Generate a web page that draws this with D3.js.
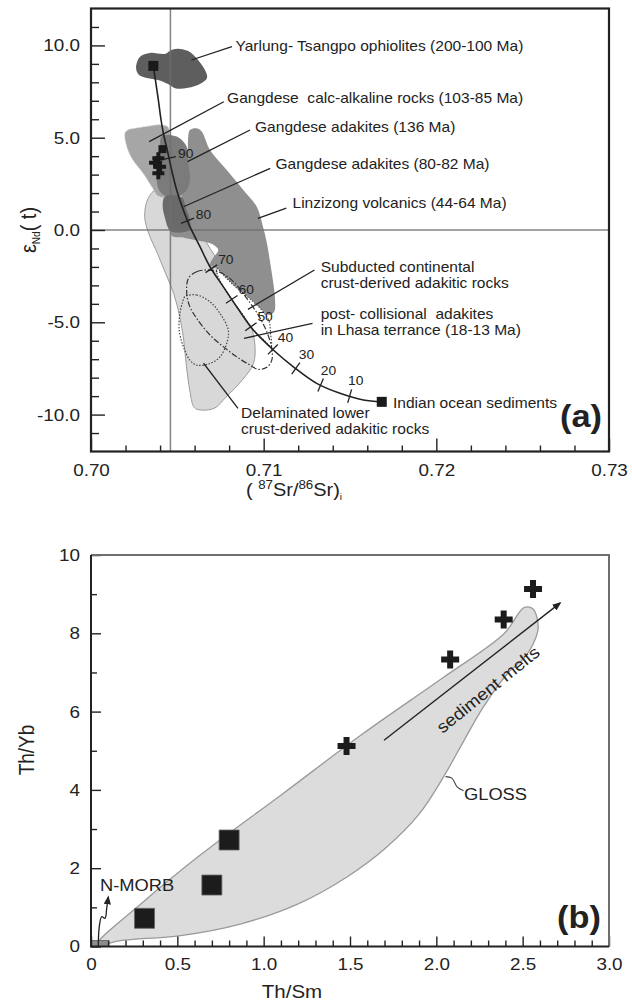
<!DOCTYPE html>
<html>
<head>
<meta charset="utf-8">
<script src="https://cdn.jsdelivr.net/npm/d3@7"></script>
<style>
  body { margin: 0; background: #fff; }
  svg text { font-family: "Liberation Sans", Arial, sans-serif; fill: #222; }
</style>
</head>
<body>
<div id="chart"></div>
<script>
// ---------- panel (a) data : eNd(t) vs (87Sr/86Sr)i ----------
var srTicks = [0.70, 0.71, 0.72, 0.73];
var ndTicks = [-10, -5, 0, 5, 10];
var refSr = 0.7046, refNd = 0;

// mixing curve between the ophiolite end member and Indian ocean sediments
var curveX = [0.70361, 0.70372, 0.70390, 0.70405, 0.70420, 0.70440, 0.70467, 0.70496, 0.70535, 0.70573, 0.70631,
              0.70689, 0.70766, 0.70844, 0.70940, 0.71056, 0.71172, 0.71307, 0.71442, 0.71577, 0.71684];
var curveY = [8.89, 8.2, 7.05, 6.0, 5.2, 4.4, 3.25, 2.17, 1.08, 0.18, -0.90,
              -1.99, -3.07, -4.16, -5.42, -6.50, -7.41, -8.31, -8.85, -9.21, -9.31];
var mixPct = [90, 80, 70, 60, 50, 40, 30, 20, 10];
var mixX = [0.70452, 0.70559, 0.70697, 0.70815, 0.70926, 0.71053, 0.71186, 0.71330, 0.71498];
var mixY = [3.9, 0.5, -2.1, -3.76, -5.24, -6.47, -7.5, -8.4, -9.0];

var endX = [0.70361, 0.71684], endY = [8.89, -9.31];
var gdSqX = [0.70414], gdSqY = [4.38];
var gdCrX = [0.70390, 0.70371, 0.70400, 0.70390], gdCrY = [3.89, 3.65, 3.43, 3.07];

var ophiolite = [[0.70261,8.78],[0.70284,9.38],[0.70342,9.59],[0.70429,9.54],[0.70469,9.76],[0.70515,9.81],
  [0.70573,9.65],[0.70620,9.21],[0.70660,8.67],[0.70672,8.24],[0.70631,7.91],[0.70562,7.70],[0.70492,7.67],
  [0.70446,7.91],[0.70388,8.13],[0.70324,8.24],[0.70278,8.40]];
var calcAlk = [[0.70197,5.26],[0.70214,5.42],[0.70266,5.53],[0.70342,5.64],[0.70411,5.69],[0.70446,5.58],
  [0.70458,5.15],[0.70486,4.34],[0.70504,3.25],[0.70486,2.17],[0.70429,1.79],[0.70388,1.84],[0.70353,2.33],
  [0.70301,3.09],[0.70243,3.79],[0.70208,4.50]];
var adak136 = [[0.70409,5.06],[0.70496,5.06],[0.70554,4.51],[0.70564,3.62],[0.70573,2.71],[0.70554,2.17],
  [0.70506,1.80],[0.70438,1.80],[0.70400,2.08],[0.70381,2.62],[0.70390,3.79],[0.70400,4.51]];
var adak80 = [[0.70429,1.81],[0.70525,1.77],[0.70550,1.17],[0.70573,0.54],[0.70569,0.0],[0.70506,-0.14],
  [0.70458,-0.04],[0.70429,0.63],[0.70415,1.35]];
var linzizong = [[0.70573,5.42],[0.70612,5.51],[0.70641,5.33],[0.70689,4.34],[0.70786,3.25],[0.70882,2.17],
  [0.70960,1.26],[0.70996,0.18],[0.71019,-0.72],[0.71038,-1.80],[0.71056,-2.89],[0.71066,-3.79],[0.71061,-4.43],
  [0.71033,-4.61],[0.70989,-4.34],[0.70940,-3.89],[0.70882,-3.43],[0.70824,-2.98],[0.70776,-2.53],[0.70728,-2.08],
  [0.70689,-1.90],[0.70707,-1.52],[0.70737,-1.08],[0.70701,-0.76],[0.70631,-0.60],[0.70544,-0.43],[0.70469,-0.33],
  [0.70463,0.0],[0.70469,0.81],[0.70515,1.63],[0.70550,2.44],[0.70562,3.79],[0.70562,4.88]];
var lightField = [[0.70374,2.17],[0.70460,2.0],[0.70549,1.81],[0.70595,0.90],[0.70642,-0.18],[0.70689,-0.99],
  [0.70735,-1.63],[0.70794,-2.35],[0.70852,-3.25],[0.70899,-4.34],[0.70934,-5.42],[0.70950,-6.33],[0.70941,-7.23],
  [0.70875,-8.14],[0.70782,-9.05],[0.70712,-9.67],[0.70619,-9.73],[0.70595,-9.58],[0.70572,-8.68],[0.70553,-7.41],
  [0.70537,-5.97],[0.70514,-4.70],[0.70479,-3.44],[0.70432,-2.35],[0.70385,-1.27],[0.70334,-0.18],[0.70311,0.72],
  [0.70327,1.63]];
var subducted = [[0.70728,-2.08],[0.70776,-2.53],[0.70824,-2.98],[0.70882,-3.43],[0.70940,-3.89],[0.70989,-4.34],
  [0.71030,-4.9],[0.71040,-5.6],[0.71043,-6.32],[0.71000,-5.95],[0.70940,-5.42],[0.70880,-4.6],[0.70820,-3.85],
  [0.70766,-3.07],[0.70735,-2.5]];
var postColl = [[0.70564,-2.62],[0.70612,-2.26],[0.70689,-2.17],[0.70766,-2.38],[0.70834,-2.89],[0.70902,-3.70],
  [0.70969,-4.61],[0.71018,-5.51],[0.71047,-6.41],[0.71047,-7.05],[0.71018,-7.44],[0.70969,-7.55],[0.70921,-7.32],
  [0.70844,-6.87],[0.70766,-6.32],[0.70689,-5.69],[0.70612,-4.79],[0.70569,-4.07],[0.70554,-3.34]];
var delam = [[0.70544,-3.61],[0.70612,-3.52],[0.70689,-3.89],[0.70747,-4.52],[0.70795,-5.42],[0.70786,-6.14],
  [0.70747,-6.87],[0.70689,-7.23],[0.70612,-7.32],[0.70573,-7.05],[0.70535,-6.32],[0.70511,-5.42],[0.70515,-4.52],
  [0.70531,-3.89]];

var fieldLabels = [
  {lines: ["Yarlung- Tsangpo ophiolites (200-100 Ma)"], x: 0.70837, y: 9.72, lead: [0.70582, 9.21, 0.70816, 9.93]},
  {lines: ["Gangdese  calc-alkaline rocks (103-85 Ma)"], x: 0.70788, y: 6.87, lead: [0.70337, 4.79, 0.70769, 6.95]},
  {lines: ["Gangdese adakites (136 Ma)"], x: 0.70950, y: 5.31, lead: [0.70559, 3.70, 0.70921, 5.42]},
  {lines: ["Gangdese adakites (80-82 Ma)"], x: 0.71068, y: 3.29, lead: [0.70536, 1.26, 0.71038, 3.34]},
  {lines: ["Linzizong volcanics (44-64 Ma)"], x: 0.71167, y: 1.18, lead: [0.70967, 0.63, 0.71131, 1.18]},
  {lines: ["Subducted continental", "crust-derived adakitic rocks"], x: 0.71330, y: -2.26, lead: [0.70909, -4.30, 0.71294, -2.17]},
  {lines: ["post- collisional  adakites", "in Lhasa terrance (18-13 Ma)"], x: 0.71330, y: -4.82, lead: [0.70886, -5.87, 0.71283, -5.06]},
  {lines: ["Indian ocean sediments"], x: 0.71749, y: -9.63, lead: null},
  {lines: ["Delaminated lower", "crust-derived adakitic rocks"], x: 0.70869, y: -10.21, lead: [0.70652, -7.22, 0.70851, -9.66]}
];

// ---------- panel (b) data : Th/Yb vs Th/Sm ----------
var thsmTicks = [0, 0.5, 1.0, 1.5, 2.0, 2.5, 3.0];
var thybTicks = [0, 2, 4, 6, 8, 10];
var sqThSm = [0.31, 0.70, 0.80], sqThYb = [0.72, 1.57, 2.72];
var crThSm = [1.48, 2.08, 2.39, 2.56], crThYb = [5.12, 7.33, 8.35, 9.13];
var gloss = [[0.03,0.03],[0.29,1.09],[0.64,2.36],[1.107,3.89],[1.57,5.42],[2.04,6.87],[2.39,7.98],[2.51,8.66],
  [2.56,8.62],[2.59,8.15],[2.56,7.72],[2.51,7.38],[2.41,6.96],[2.27,6.10],[2.16,5.26],[2.04,4.32],[1.90,3.38],
  [1.71,2.53],[1.48,1.77],[1.20,1.09],[0.87,0.58],[0.52,0.28],[0.17,0.15]];
var nmorbBox = [0, 0, 0.1, 0.15];
var nmorbX = [0.042, 0.048, 0.062, 0.081, 0.091, 0.100], nmorbY = [0.0, 0.51, 0.76, 0.72, 0.98, 1.26];
var meltX = [1.697, 2.716], meltY = [5.27, 8.77];

var width = 632, height = 1004,
    SX = 1.11;   // the source figure is a little wider than tall, so the lettering is stretched

var svg = d3.select("#chart").append("svg")
    .attr("width", width)
    .attr("height", height);

svg.append("defs").append("marker")
    .attr("id", "arrow")
    .attr("viewBox", "0 -5 10 10")
    .attr("refX", 8).attr("refY", 0)
    .attr("markerUnits", "userSpaceOnUse")
    .attr("markerWidth", 9).attr("markerHeight", 9)
    .attr("orient", "auto")
  .append("path")
    .attr("d", "M0,-4L10,0L0,4Z")
    .attr("fill", "#222");

var xA = d3.scaleLinear().domain([0.70, 0.73]).range([91, 609]);
var yA = d3.scaleLinear().domain([-12, 12]).range([451.5, 8.5]);
var xB = d3.scaleLinear().domain([0, 3]).range([91, 609]);
var yB = d3.scaleLinear().domain([0, 10]).range([946.5, 555]);

function field(x, y) {
  return d3.line().x(function(d) { return x(d[0]); }).y(function(d) { return y(d[1]); })
    .curve(d3.curveCatmullRomClosed.alpha(0.5));
}

// text placed with a horizontal stretch
function stext(g, x, y, size, extra) {
  return g.append("text")
    .attr("transform", "translate(" + x + "," + y + ")" + (extra || "") + " scale(" + SX + ",1)")
    .style("font-size", size + "px");
}

// ================= panel (a) =================
var gA = svg.append("g");
var fA = field(xA, yA);

gA.append("path").attr("d", fA(lightField)).attr("fill", "#d8d8d8").attr("stroke", "#9c9c9c").attr("stroke-width", 1);
gA.append("path").attr("d", fA(linzizong)).attr("fill", "#8f8f8f");
gA.append("path").attr("d", fA(subducted)).attr("fill", "#fff")
    .attr("stroke", "#444").attr("stroke-width", 1.1).attr("stroke-dasharray", "1.5,1.5");
gA.append("path").attr("d", fA(calcAlk)).attr("fill", "#a6a6a6")
    .attr("stroke", "#d2d2d2").attr("stroke-width", 1).attr("stroke-dasharray", "1.5,1.5");
gA.append("path").attr("d", fA(adak136)).attr("fill", "#7b7b7b");
gA.append("path").attr("d", fA(adak80)).attr("fill", "#6a6a6a");
gA.append("path").attr("d", fA(ophiolite)).attr("fill", "#5e5e5e");
gA.append("path").attr("d", fA(delam)).attr("fill", "none")
    .attr("stroke", "#444").attr("stroke-width", 1.2).attr("stroke-dasharray", "1.5,1.6");
gA.append("path").attr("d", fA(postColl)).attr("fill", "none")
    .attr("stroke", "#333").attr("stroke-width", 1.2).attr("stroke-dasharray", "6,2,1.5,2");

// reference lines
gA.append("line").attr("x1", xA(refSr)).attr("x2", xA(refSr)).attr("y1", yA(-12)).attr("y2", yA(12))
    .attr("stroke", "#6f6f6f").attr("stroke-width", 1.5).attr("stroke-opacity", 0.85);
gA.append("line").attr("x1", xA(0.70)).attr("x2", xA(0.73)).attr("y1", yA(refNd)).attr("y2", yA(refNd))
    .attr("stroke", "#6f6f6f").attr("stroke-width", 1.5).attr("stroke-opacity", 0.85);

// mixing curve
var curvePts = curveX.map(function(d, i) { return [d, curveY[i]]; });
gA.append("path")
    .attr("d", d3.line().x(function(d) { return xA(d[0]); }).y(function(d) { return yA(d[1]); })
      .curve(d3.curveCatmullRom.alpha(0.5))(curvePts))
    .attr("fill", "none").attr("stroke", "#222").attr("stroke-width", 1.6);

// tick marks on the curve
function curveNormal(yv) {
  var i = 0;
  while (i < curveY.length - 2 && curveY[i + 1] > yv) i++;
  var dx = xA(curveX[i + 1]) - xA(curveX[i]), dy = yA(curveY[i + 1]) - yA(curveY[i]);
  var len = Math.sqrt(dx * dx + dy * dy);
  return [dy / len, -dx / len];
}
mixPct.forEach(function(p, i) {
  var cx = xA(mixX[i]), cy = yA(mixY[i]), n = curveNormal(mixY[i]);
  gA.append("line")
      .attr("x1", cx - n[0] * 7).attr("y1", cy - n[1] * 7)
      .attr("x2", cx + n[0] * 7).attr("y2", cy + n[1] * 7)
      .attr("stroke", "#222").attr("stroke-width", 1.3);
  stext(gA, cx + n[0] * 15 + 2, cy + n[1] * 15 - 1, 12.5)
      .attr("text-anchor", "middle").attr("dominant-baseline", "central")
      .text(p);
});

// symbols
gA.selectAll(".endsq").data(endX).enter().append("path")
    .attr("transform", function(d, i) { return "translate(" + xA(d) + "," + yA(endY[i]) + ")"; })
    .attr("d", d3.symbol().type(d3.symbolSquare).size(100))
    .attr("fill", "#1a1a1a");
gA.selectAll(".gdsq").data(gdSqX).enter().append("path")
    .attr("transform", function(d, i) { return "translate(" + xA(d) + "," + yA(gdSqY[i]) + ")"; })
    .attr("d", d3.symbol().type(d3.symbolSquare).size(64))
    .attr("fill", "#1a1a1a");
gA.selectAll(".gdcr").data(gdCrX).enter().append("path")
    .attr("transform", function(d, i) { return "translate(" + xA(d) + "," + yA(gdCrY[i]) + ")"; })
    .attr("d", d3.symbol().type(d3.symbolCross).size(80))
    .attr("fill", "#1a1a1a");

// field labels with leaders
fieldLabels.forEach(function(f) {
  if (f.lead) {
    gA.append("line")
        .attr("x1", xA(f.lead[0])).attr("y1", yA(f.lead[1]))
        .attr("x2", xA(f.lead[2])).attr("y2", yA(f.lead[3]))
        .attr("stroke", "#222").attr("stroke-width", 1.3);
  }
  var t = stext(gA, xA(f.x), yA(f.y), 14).attr("xml:space", "preserve");
  f.lines.forEach(function(l, j) {
    t.append("tspan").attr("x", 0).attr("dy", j === 0 ? 0 : 16).text(l);
  });
});

// axes (a)
var axA = gA.append("g");
axA.append("g").attr("transform", "translate(91,0)")
    .call(d3.axisLeft(yA).tickValues(d3.range(-11, 12).filter(function(d) { return d % 5 !== 0; }))
      .tickSize(-8).tickFormat(""));
axA.append("g").attr("transform", "translate(91,0)")
    .call(d3.axisLeft(yA).tickValues(ndTicks).tickSize(-14).tickPadding(10)
      .tickFormat(function(d) { return d.toFixed(1); }));
axA.append("g").attr("transform", "translate(0,451.5)")
    .call(d3.axisBottom(xA).tickValues(d3.range(1, 15).filter(function(i) { return i % 5 !== 0; })
      .map(function(i) { return 0.70 + i * 0.002; })).tickSize(-6).tickFormat(""));
axA.append("g").attr("transform", "translate(0,451.5)")
    .call(d3.axisBottom(xA).tickValues(srTicks).tickSize(-13).tickPadding(12.5)
      .tickFormat(function(d) { return d.toFixed(2); }));
axA.selectAll(".domain").remove();
axA.selectAll(".tick line").attr("stroke", "#222").attr("stroke-width", 1.4);
axA.selectAll(".tick text").style("font-size", "17px").attr("transform", "scale(" + SX + ",1)")
    .style("font-family", "'Liberation Sans', Arial, sans-serif").attr("fill", "#222");

gA.append("rect").attr("x", 91).attr("y", 8.5).attr("width", 518).attr("height", 443)
    .attr("fill", "none").attr("stroke", "#222").attr("stroke-width", 2.2);

stext(gA, 602, 427, 31).attr("text-anchor", "end").style("font-weight", "bold").text("(a)");

var tA = stext(gA, 294, 496, 18).attr("text-anchor", "middle").attr("xml:space", "preserve");
tA.append("tspan").text("( ");
tA.append("tspan").attr("dy", -7).style("font-size", "12px").text("87");
tA.append("tspan").attr("dy", 7).text("Sr/");
tA.append("tspan").attr("dy", -7).style("font-size", "12px").text("86");
tA.append("tspan").attr("dy", 7).text("Sr)");
tA.append("tspan").attr("dy", 4).style("font-size", "9px").text("i");

var tyA = gA.append("text").attr("transform", "translate(36,230) rotate(-90) scale(1,1.12)")
    .attr("text-anchor", "middle").attr("xml:space", "preserve").style("font-size", "20px");
tyA.append("tspan").text("ε");
tyA.append("tspan").attr("dy", 4).style("font-size", "10px").text("Nd");
tyA.append("tspan").attr("dy", -4).text("( t)");

// ================= panel (b) =================
var gB = svg.append("g");
var fB = field(xB, yB);

gB.append("path").attr("d", fB(gloss)).attr("fill", "#dcdcdc").attr("stroke", "#9a9a9a").attr("stroke-width", 1.3);
gB.append("rect")
    .attr("x", xB(nmorbBox[0])).attr("y", yB(nmorbBox[3]))
    .attr("width", xB(nmorbBox[2]) - xB(nmorbBox[0])).attr("height", yB(nmorbBox[1]) - yB(nmorbBox[3]))
    .attr("fill", "#8c8c8c").attr("stroke", "#555").attr("stroke-width", 0.8);

gB.append("path")
    .attr("d", d3.line().x(function(d) { return xB(d[0]); }).y(function(d) { return yB(d[1]); })
      .curve(d3.curveCatmullRom)(nmorbX.map(function(d, i) { return [d, nmorbY[i]]; })))
    .attr("fill", "none").attr("stroke", "#222").attr("stroke-width", 1.3).attr("marker-end", "url(#arrow)");
stext(gB, xB(0.052), yB(1.42), 16.5).text("N-MORB");

gB.append("line")
    .attr("x1", xB(meltX[0])).attr("y1", yB(meltY[0]))
    .attr("x2", xB(meltX[1])).attr("y2", yB(meltY[1]))
    .attr("stroke", "#222").attr("stroke-width", 1.4).attr("marker-end", "url(#arrow)");
stext(gB, xB(2.30), yB(6.56), 17, " rotate(-39)")
    .attr("text-anchor", "middle").attr("dominant-baseline", "central")
    .text("sediment melts");

gB.append("path")
    .attr("d", d3.line().x(function(d) { return xB(d[0]); }).y(function(d) { return yB(d[1]); })
      .curve(d3.curveCatmullRom)([[2.053, 4.34], [2.09, 4.30], [2.12, 4.08], [2.158, 3.98]]))
    .attr("fill", "none").attr("stroke", "#444").attr("stroke-width", 1.1);
stext(gB, xB(2.16), yB(3.74), 16.5).text("GLOSS");

gB.selectAll(".sq").data(sqThSm).enter().append("path")
    .attr("transform", function(d, i) { return "translate(" + xB(d) + "," + yB(sqThYb[i]) + ")"; })
    .attr("d", d3.symbol().type(d3.symbolSquare).size(400))
    .attr("fill", "#1c1c1c").attr("stroke", "#666").attr("stroke-width", 0.8);
gB.selectAll(".cr").data(crThSm).enter().append("path")
    .attr("transform", function(d, i) { return "translate(" + xB(d) + "," + yB(crThYb[i]) + ")"; })
    .attr("d", d3.symbol().type(d3.symbolCross).size(180))
    .attr("fill", "#1c1c1c");

var axB = gB.append("g");
axB.append("g").attr("transform", "translate(91,0)")
    .call(d3.axisLeft(yB).tickValues([1, 3, 5, 7, 9]).tickSize(-6).tickFormat(""));
axB.append("g").attr("transform", "translate(91,0)")
    .call(d3.axisLeft(yB).tickValues(thybTicks).tickSize(-10).tickPadding(10).tickFormat(d3.format("d")));
axB.append("g").attr("transform", "translate(0,946.5)")
    .call(d3.axisBottom(xB).tickValues(d3.range(1, 30).filter(function(i) { return i % 5 !== 0; })
      .map(function(i) { return i / 10; })).tickSize(-6).tickFormat(""));
axB.append("g").attr("transform", "translate(0,946.5)")
    .call(d3.axisBottom(xB).tickValues(thsmTicks).tickSize(-10).tickPadding(11.5)
      .tickFormat(function(d) { return d === 0 ? "0" : d.toFixed(1); }));
axB.selectAll(".domain").remove();
axB.selectAll(".tick line").attr("stroke", "#222").attr("stroke-width", 1.4);
axB.selectAll(".tick text").style("font-size", "17px").attr("transform", "scale(" + SX + ",1)")
    .style("font-family", "'Liberation Sans', Arial, sans-serif").attr("fill", "#222");

gB.append("path").attr("d", "M91,555H609V946.5").attr("fill", "none").attr("stroke", "#6e6e6e").attr("stroke-width", 2);
gB.append("path").attr("d", "M91,555V946.5H609").attr("fill", "none").attr("stroke", "#222").attr("stroke-width", 2);

stext(gB, 601, 928, 31).attr("text-anchor", "end").style("font-weight", "bold").text("(b)");
stext(gB, 292, 998, 18.5).attr("text-anchor", "middle").text("Th/Sm");
gB.append("text").attr("transform", "translate(34,750) rotate(-90) scale(1,1.12)")
    .attr("text-anchor", "middle").style("font-size", "19px").text("Th/Yb");
</script>
</body>
</html>
